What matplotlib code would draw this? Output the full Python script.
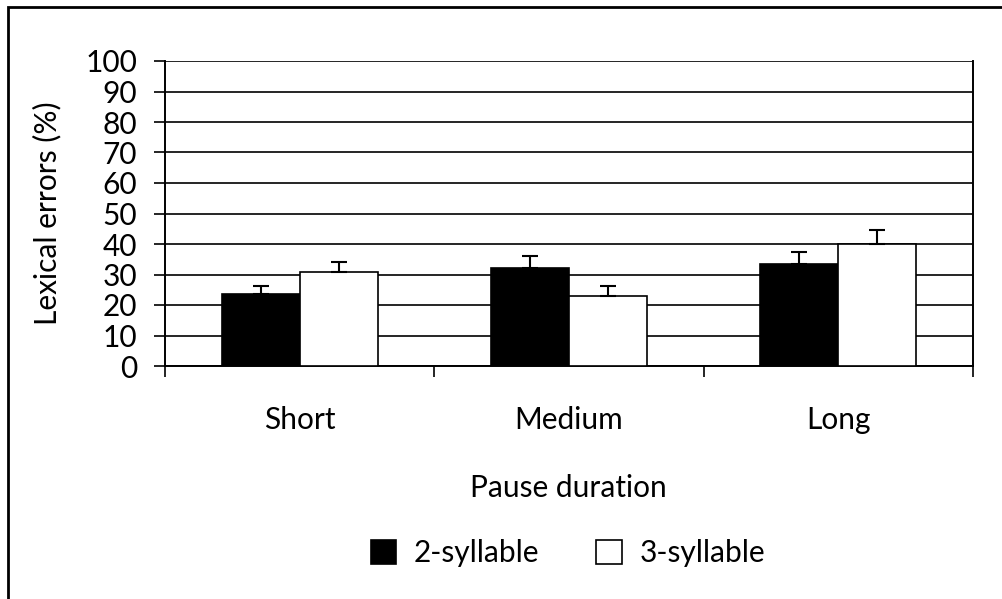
import numpy as np
import matplotlib.pyplot as plt
from matplotlib.patches import Rectangle

plt.rcParams['font.family'] = ['Lato', 'DejaVu Sans']

# data
categories = ['Short', 'Medium', 'Long']
two_syl = [23.7, 32.2, 33.5]
two_syl_err = [2.5, 3.9, 3.8]
three_syl = [30.7, 22.8, 40.0]
three_syl_err = [3.3, 3.4, 4.5]

W, H = 1003, 599
fs = 21.5
fig = plt.figure(figsize=(W / 100, H / 100), dpi=100)
ax = fig.add_axes([165 / W, 1 - 366 / H, (973 - 165) / W, (366 - 61) / H])

x = np.arange(len(categories))
bw = 0.29
ax.bar(x - bw / 2, two_syl, bw, color='black', edgecolor='black', linewidth=1.2,
       label='2-syllable', zorder=3)
ax.bar(x + bw / 2, three_syl, bw, color='white', edgecolor='black', linewidth=1.2,
       label='3-syllable', zorder=3)
ax.errorbar(x - bw / 2, two_syl, yerr=[np.zeros(3), two_syl_err], fmt='none',
            ecolor='black', elinewidth=1.5, capsize=6, capthick=1.5, zorder=4)
ax.errorbar(x + bw / 2, three_syl, yerr=[np.zeros(3), three_syl_err], fmt='none',
            ecolor='black', elinewidth=1.5, capsize=6, capthick=1.5, zorder=4)

ax.set_xlim(-0.5, 2.5)
ax.set_ylim(0, 100)
ax.set_yticks(range(0, 101, 10))
ax.yaxis.grid(True, color='black', linewidth=1.2, zorder=0)
ax.set_axisbelow(True)

ax.set_xticks([-0.5, 0.5, 1.5, 2.5])
ax.set_xticklabels([])
ax.tick_params(axis='x', length=8, width=1.2, direction='out')
ax.tick_params(axis='y', length=8, width=1.2, direction='out', labelsize=fs, pad=12)
for i, c in enumerate(categories):
    ax.text(x[i], -17.7, c, ha='center', va='center', fontsize=fs,
            transform=ax.transData)

for s in ['left', 'bottom', 'top', 'right']:
    ax.spines[s].set_linewidth(1.4)
    ax.spines[s].set_color('black')
ax.spines['top'].set_visible(False)

ax.set_ylabel('Lexical errors (%)', fontsize=fs)
ax.yaxis.set_label_coords(-104 / (973 - 165), 0.5)

fig.text(568 / W, 1 - 488 / H, 'Pause duration', ha='center', va='center', fontsize=fs)

leg = fig.legend(loc='center', bbox_to_anchor=(568 / W, 1 - 553 / H), ncol=2,
                 frameon=False, fontsize=fs, handlelength=0.85, handleheight=0.85,
                 handletextpad=0.6, columnspacing=1.9)

fig.patches.append(Rectangle((8 / W, -0.1), 1.2, 1 - 7 / H + 0.1,
                             transform=fig.transFigure, fill=False,
                             edgecolor='black', linewidth=2))

fig.savefig('out.png', dpi=100)
